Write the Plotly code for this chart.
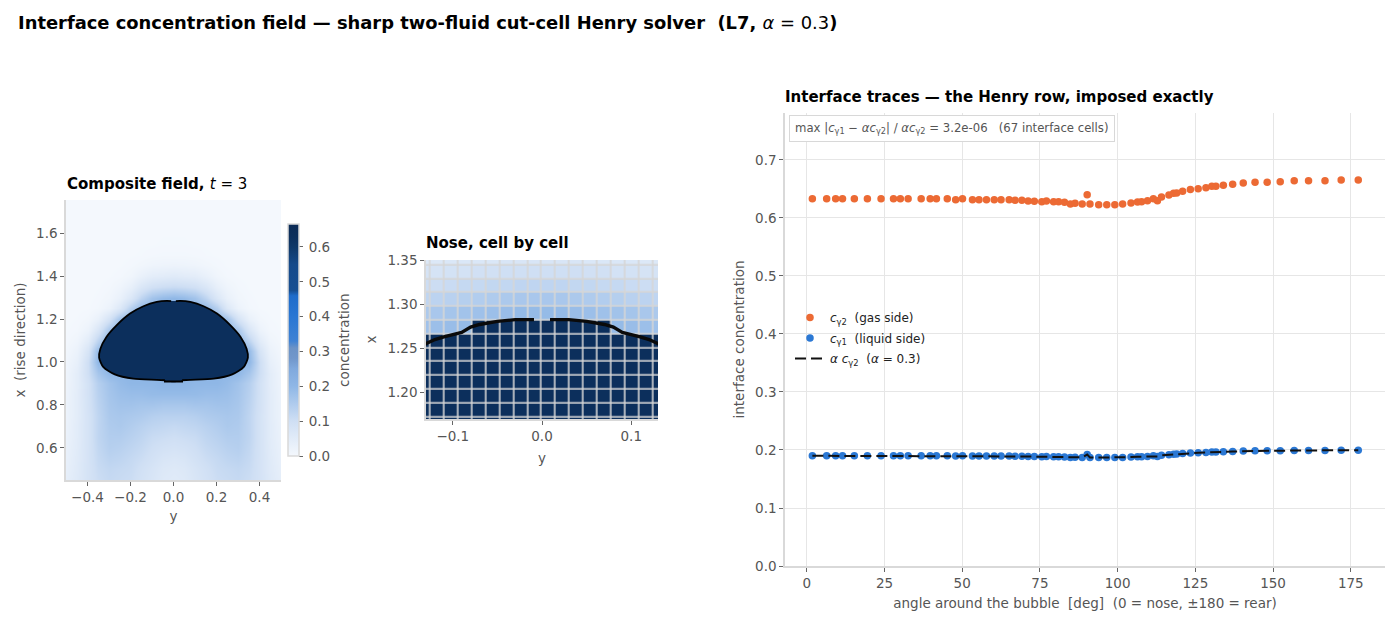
import plotly.graph_objects as go

W, H = 1400, 625
INK = "#555555"
SPINE = "#d9d9d9"
FONT = "DejaVu Sans"

# ---- right panel: interface traces ----
angle = [1.8, 6.4, 9.3, 11.5, 15.3, 19.5, 23.9, 27.9, 30.1, 32.6, 36.8, 39.7, 41.7, 45.2, 47.9, 50.1, 53.3,
         55.4, 57.8, 60.3, 62.5, 65.1, 67.0, 69.2, 71.2, 73.2, 75.6, 77.1, 79.4, 81.0, 82.9, 84.8, 86.3, 88.6,
         90.2, 91.1, 93.9, 96.5, 99.1, 101.6, 104.3, 106.4, 107.7, 109.6, 111.5, 112.8, 114.1, 116.5, 118.0,
         119.0, 120.9, 123.4, 125.9, 128.4, 130.3, 131.6, 134.0, 137.0, 140.4, 144.2, 148.1, 152.3, 156.8,
         161.4, 166.7, 171.9, 177.4]
c_gas = [.6333, .6333, .6333, .6333, .6333, .6333, .6333, .6333, .6333, .6333, .6333, .6333, .6333, .6333,
         .6316, .6333, .6316, .6316, .6316, .6316, .6316, .6316, .6305, .6305, .6293, .6287, .6282, .6293,
         .6282, .6282, .6270, .6241, .6253, .6241, .6402, .6241, .6229, .6229, .6229, .6241, .6259, .6276,
         .6282, .6299, .6333, .6299, .6362, .6397, .6425, .6431, .6460, .6489, .6506, .6523, .6546, .6546,
         .6563, .6580, .6603, .6615, .6615, .6626, .6644, .6644, .6644, .6655, .6655]
c_liq = [.1900, .1900, .1900, .1900, .1900, .1900, .1900, .1900, .1900, .1900, .1900, .1900, .1900, .1900,
         .1895, .1900, .1895, .1895, .1895, .1895, .1895, .1895, .1892, .1892, .1888, .1886, .1885, .1888,
         .1885, .1885, .1881, .1872, .1876, .1872, .1921, .1872, .1869, .1869, .1869, .1872, .1878, .1883,
         .1885, .1890, .1900, .1890, .1909, .1919, .1928, .1929, .1938, .1947, .1952, .1957, .1964, .1964,
         .1969, .1974, .1981, .1985, .1985, .1988, .1993, .1993, .1993, .1997, .1997]

# ---- left panel: composite field (half-width, mirrored about y = 0) ----
field_y = [0, .05, .10, .15, .20, .25, .30, .35, .40, .45, .50]
field_x = [1.75, 1.70, 1.65, 1.60, 1.55, 1.50, 1.45, 1.40, 1.35, 1.30, 1.25, 1.20, 1.15, 1.10, 1.05, 1.00,
           .95, .90, .85, .80, .75, .70, .65, .60, .55, .50, .45]
field_half = [
    [0, 0, 0, 0, 0, 0, 0, 0, 0, 0, 0],
    [0, 0, 0, 0, 0, 0, 0, 0, 0, 0, 0],
    [0, 0, 0, 0, 0, 0, 0, 0, 0, 0, 0],
    [.001, .001, 0, 0, 0, 0, 0, 0, 0, 0, 0],
    [.002, .002, .001, .001, 0, 0, 0, 0, 0, 0, 0],
    [.005, .005, .004, .002, .001, 0, 0, 0, 0, 0, 0],
    [.02, .018, .015, .009, .004, .001, 0, 0, 0, 0, 0],
    [.055, .05, .045, .03, .012, .004, .001, 0, 0, 0, 0],
    [.11, .105, .095, .07, .035, .015, .005, .001, 0, 0, 0],
    [.20, .19, .17, .125, .07, .03, .01, .003, 0, 0, 0],
    [.20, .20, .20, .19, .14, .065, .022, .006, .001, 0, 0],
    [.20, .20, .20, .20, .20, .17, .085, .03, .008, .002, 0],
    [.20, .20, .20, .20, .20, .20, .16, .075, .022, .005, .001],
    [.20, .20, .20, .20, .20, .20, .20, .13, .05, .014, .003],
    [.20, .20, .20, .20, .20, .20, .20, .19, .08, .025, .007],
    [.20, .20, .20, .20, .20, .20, .20, .20, .10, .035, .012],
    [.20, .20, .20, .20, .20, .20, .20, .165, .10, .045, .016],
    [.21, .21, .20, .20, .20, .19, .17, .14, .09, .045, .018],
    [.19, .19, .19, .185, .185, .18, .165, .135, .09, .047, .02],
    [.16, .16, .165, .165, .17, .17, .16, .13, .088, .047, .022],
    [.135, .135, .14, .15, .155, .16, .155, .125, .085, .047, .022],
    [.115, .12, .125, .135, .145, .155, .15, .125, .085, .05, .024],
    [.10, .105, .11, .125, .135, .145, .145, .125, .085, .05, .026],
    [.085, .09, .10, .115, .125, .135, .14, .12, .085, .052, .03],
    [.07, .075, .09, .105, .115, .125, .13, .115, .085, .055, .032],
    [.06, .065, .08, .095, .11, .115, .12, .11, .085, .057, .036],
    [.055, .06, .075, .09, .105, .11, .115, .105, .085, .06, .04],
]

# bubble outline, right half, nose to tail
outline_y = [.011, .031, .078, .140, .202, .265, .312, .340, .346, .327, .273, .187, .078, .04]
outline_x = [1.284, 1.285, 1.280, 1.260, 1.226, 1.171, 1.117, 1.062, 1.020, .977, .942, .922, .917, .915]
tail_y = [-.04, -.04, .04, .04]
tail_x = [.915, .909, .909, .915]

# ---- middle panel: nose cells (half-width, mirrored about y = 0), bottom row first ----
cell_y = [.0078, .0234, .0391, .0547, .0703, .0859, .1016, .1172, .1328]
cell_x = [1.1641, 1.1797, 1.1953, 1.2109, 1.2266, 1.2422, 1.2578, 1.2734, 1.2891, 1.3047, 1.3203, 1.3359, 1.3516]
cell_half = [
    [.63] * 9,
    [.63] * 9,
    [.63] * 9,
    [.63] * 9,
    [.63] * 9,
    [.63] * 9,
    [.63] * 9,
    [.63, .63, .63, .63, .63, .19, .185, .18, .175],
    [.19, .19, .185, .18, .175, .17, .165, .16, .155],
    [.16, .16, .155, .15, .145, .14, .135, .13, .125],
    [.125, .125, .12, .12, .115, .115, .11, .105, .105],
    [.10, .10, .10, .095, .095, .09, .09, .085, .085],
    [.075, .075, .075, .07, .07, .07, .07, .065, .065],
]
nose_y = [.009, .03, .05, .07, .08, .09, .11, .12, .135]
nose_x = [1.2825, 1.2825, 1.2805, 1.277, 1.274, 1.268, 1.263, 1.260, 1.253]

scale_stops = [(0, "#f4f8fd"), (.10, "#cfdff4"), (.20, "#8fb7e6"), (.25, "#80a9dd"), (.28, "#7197cb"),
               (.31, "#6b92c6"), (.33, "#3f82d4"), (.40, "#2a77d3"), (.46, "#1f6cca"), (.475, "#174f92"),
               (.55, "#164a8a"), (.60, "#0f3868"), (.63, "#0c2f5c"), (.666, "#0b2b55")]
Z_MAX = .666
colorscale = [[v / Z_MAX, c] for v, c in scale_stops]


def mirror_row(row):
    return row[::-1] + row


def dom_x(a, b):
    return [a / W, b / W]


def dom_y(top, bottom):
    return [1 - bottom / H, 1 - top / H]


fig = go.Figure()

field_columns = [-v for v in field_y[::-1]] + field_y[1:]
fig.add_trace(go.Heatmap(
    x=field_columns, y=field_x, z=[row[::-1] + row[1:] for row in field_half], zmin=0, zmax=Z_MAX,
    colorscale=colorscale, zsmooth="best", xaxis="x", yaxis="y", hoverinfo="skip",
    colorbar=dict(x=288 / W, xanchor="left", y=1 - 456 / H, yanchor="bottom", len=232 / H, lenmode="fraction",
                  thickness=11, thicknessmode="pixels", xpad=0, ypad=0, outlinecolor=SPINE, outlinewidth=1.5,
                  tick0=0, dtick=.1, tickformat=".1f", ticks="outside", ticklen=4, tickcolor="#666666",
                  tickprefix="\u2009", tickfont=dict(size=13.5, color=INK, family=FONT)),
))

closed_y = outline_y + tail_y[::-1] + [-v for v in outline_y[::-1]]
closed_x = outline_x + tail_x + outline_x[::-1]
fig.add_trace(go.Scatter(x=closed_y, y=closed_x, mode="lines", fill="toself", fillcolor="#0c2f5c",
                         line=dict(width=0, shape="spline", smoothing=.7), xaxis="x", yaxis="y",
                         showlegend=False, hoverinfo="skip"))
rim_y = outline_y + [None] + [-v for v in outline_y]
rim_x = outline_x + [None] + outline_x
fig.add_trace(go.Scatter(x=rim_y, y=rim_x, mode="lines", line=dict(color="black", width=1.8, shape="spline", smoothing=.7),
                         xaxis="x", yaxis="y", showlegend=False, hoverinfo="skip"))
fig.add_trace(go.Scatter(x=tail_y, y=tail_x, mode="lines", line=dict(color="black", width=1.8),
                         xaxis="x", yaxis="y", showlegend=False, hoverinfo="skip"))

cell_columns = [-v for v in cell_y[::-1]] + cell_y
fig.add_trace(go.Heatmap(
    x=cell_columns, y=cell_x, z=[mirror_row(r) for r in cell_half], zmin=0, zmax=Z_MAX, colorscale=colorscale,
    showscale=False, xgap=1.6, ygap=1.6, xaxis="x2", yaxis="y2", hoverinfo="skip",
))
for sign in (1, -1):
    fig.add_trace(go.Scatter(x=[sign * v for v in nose_y], y=nose_x, mode="lines",
                             line=dict(color="#0a0a0a", width=3.4), xaxis="x2", yaxis="y2",
                             showlegend=False, hoverinfo="skip"))

fig.add_trace(go.Scatter(x=angle, y=c_gas, mode="markers", marker=dict(color="#ec6a34", size=7.5), legendgroup="a",
                         name="<i>c</i><sub>γ2</sub>  (gas side)", xaxis="x3", yaxis="y3"))
fig.add_trace(go.Scatter(x=angle, y=c_liq, mode="markers", marker=dict(color="#2b78d4", size=7.5), legendgroup="b",
                         name="<i>c</i><sub>γ1</sub>  (liquid side)", xaxis="x3", yaxis="y3"))
fig.add_trace(go.Scatter(x=angle, y=c_liq, mode="lines", line=dict(color="#111111", width=2, dash="11px,5px"), legendgroup="c",
                         name="<i>α c</i><sub>γ2</sub>  (<i>α</i> = 0.3)", xaxis="x3", yaxis="y3"))

axis_base = dict(showline=True, linecolor=SPINE, linewidth=1.5, ticks="outside", ticklen=4, tickcolor="#666666",
                 tickwidth=1, tickfont=dict(size=13.5, color=INK, family=FONT), zeroline=False, showgrid=False)


def axis_title(text, standoff):
    return dict(text=text, font=dict(size=13.5, color=INK, family=FONT), standoff=standoff)


fig.update_layout(
    width=W, height=H, margin=dict(l=0, r=0, t=0, b=0, autoexpand=False), paper_bgcolor="white", plot_bgcolor="white",
    font=dict(family=FONT, color=INK),
    xaxis=dict(axis_base, domain=dom_x(66, 281), range=[-.5, .5], dtick=.2, tick0=0, tickformat=".1f",
               title=axis_title("y", 8), anchor="y"),
    yaxis=dict(axis_base, domain=dom_y(200, 480), range=[.45, 1.755], dtick=.2, tick0=0, tickformat=".1f",
               title=axis_title("x  (rise direction)", 7), anchor="x"),
    xaxis2=dict(axis_base, domain=dom_x(426, 658), range=[-.13, .13], dtick=.1, tick0=0, tickformat=".1f",
                title=axis_title("y", 11), anchor="y2"),
    yaxis2=dict(axis_base, domain=dom_y(260, 419), range=[1.17, 1.35], dtick=.05, tick0=0, tickformat=".2f",
                title=axis_title("x", 8), anchor="x2"),
    xaxis3=dict(axis_base, domain=dom_x(785, 1385), range=[-7, 186], dtick=25, tick0=0, showgrid=True,
                gridcolor="#e6e6e6", gridwidth=1, title=axis_title("angle around the bubble  [deg]  (0 = nose, ±180 = rear)", 9),
                anchor="y3"),
    yaxis3=dict(axis_base, domain=dom_y(113, 566), range=[0, .781], dtick=.1, tick0=0, tickformat=".1f", showgrid=True,
                gridcolor="#e6e6e6", gridwidth=1, title=axis_title("interface concentration", 7), anchor="x3"),
    legend=dict(x=790 / W, xanchor="left", y=1 - 303 / H, yanchor="top", bgcolor="rgba(255,255,255,0)", borderwidth=0,
                font=dict(size=12, color="#222222", family=FONT), itemwidth=30, tracegroupgap=1.5),
    shapes=[dict(type="rect", xref="x2 domain", yref="y2 domain", x0=0, x1=1, y0=0, y1=1, layer="below",
                 line=dict(width=0), fillcolor="#d6d6d6")],
    annotations=[
        dict(text="<b>Interface concentration field — sharp two-fluid cut-cell Henry solver  (L7, </b><i>α</i> = 0.3<b>)</b>",
             x=16 / W, y=1 - 22 / H, xref="paper", yref="paper", xanchor="left", yanchor="middle", showarrow=False,
             font=dict(size=17.9, color="black", family=FONT)),
        dict(text="<b>Composite field, </b><i>t</i> = 3", x=65 / W, y=1 - 184 / H, xref="paper", yref="paper",
             xanchor="left", yanchor="middle", showarrow=False, font=dict(size=15, color="black", family=FONT)),
        dict(text="<b>Nose, cell by cell</b>", x=424 / W, y=1 - 243 / H, xref="paper", yref="paper",
             xanchor="left", yanchor="middle", showarrow=False, font=dict(size=15, color="black", family=FONT)),
        dict(text="<b>Interface traces — the Henry row, imposed exactly</b>", x=783 / W, y=1 - 97 / H, xref="paper",
             yref="paper", xanchor="left", yanchor="middle", showarrow=False, font=dict(size=15, color="black", family=FONT)),
        dict(text="concentration", x=344 / W, y=1 - 340 / H, xref="paper", yref="paper", textangle=-90,
             xanchor="center", yanchor="middle", showarrow=False, font=dict(size=13.5, color=INK, family=FONT)),
        dict(text="max |<i>c</i><sub>γ1</sub> − <i>αc</i><sub>γ2</sub>| / <i>αc</i><sub>γ2</sub> = 3.2e-06   (67 interface cells)",
             x=789 / W, y=1 - 128.5 / H, xref="paper", yref="paper", xanchor="left", yanchor="middle", showarrow=False,
             bgcolor="white", bordercolor="#d8d8d8", borderwidth=1, borderpad=5,
             font=dict(size=11.7, color=INK, family=FONT)),
    ],
)

fig.write_html("out.html", config={"displayModeBar": False},
               post_script="document.body.style.margin='0';document.body.style.overflow='hidden';")
